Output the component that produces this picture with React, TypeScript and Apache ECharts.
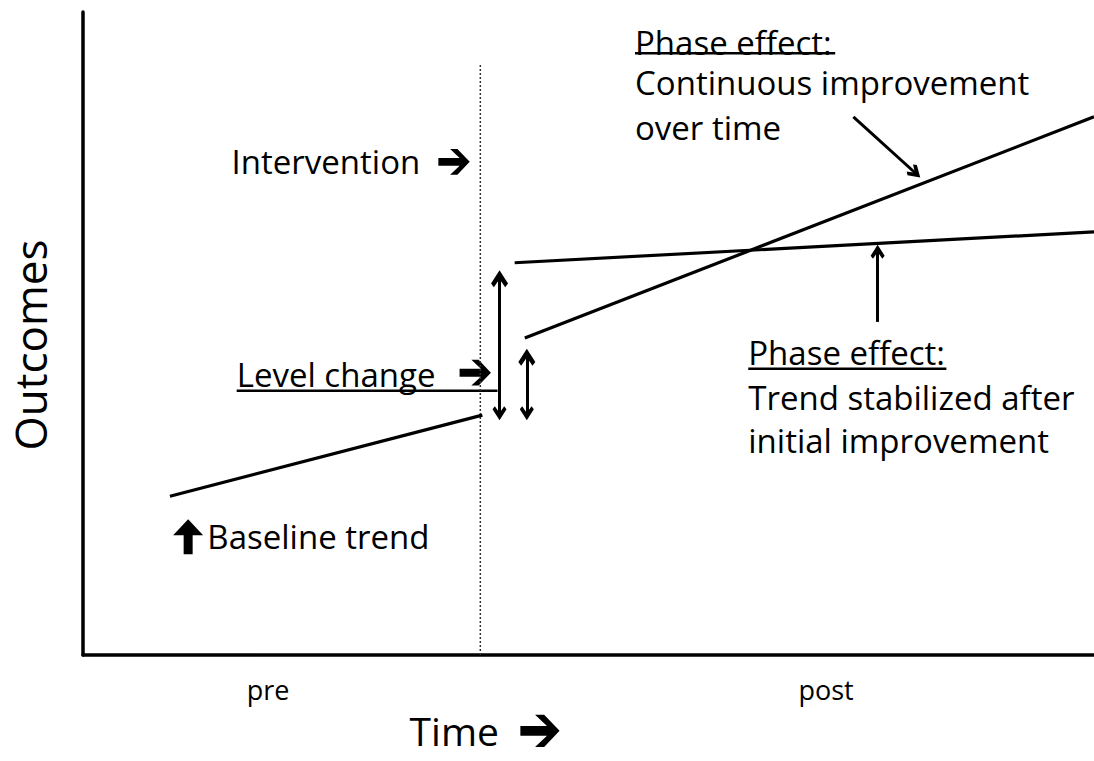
import React, { useEffect, useRef } from "react";
import * as echarts from "echarts";

// Schematic interrupted time series (time 0-100, outcome 0-100)
const baselineTrend = [[8.6, 24.7], [39.5, 37.3]];
const continuousImprovement = [[43.7, 49.3], [100, 83.7]];
const stabilizedTrend = [[42.7, 61.0], [100, 65.8]];
const interventionLine = [[39.3, 0], [39.3, 91.8]];
const levelChangeArrows = [
  [[41.2, 58.5], [41.2, 37.6]],
  [[43.9, 46.3], [43.9, 37.6]],
];
const pointerArrows = [
  [[76.2, 83.7], [82.3, 75.0]],
  [[78.6, 51.8], [78.6, 62.7]],
];

const textLabels = [
  { text: "Intervention", t: 14.7, v: 76.7, align: "left", size: 33 },
  { text: "Level change", t: 15.2, v: 43.7, align: "left", size: 33 },
  { text: "Phase effect:", t: 54.6, v: 95.3, align: "left", size: 33 },
  { text: "Continuous improvement", t: 54.6, v: 89.0, align: "left", size: 33 },
  { text: "over time", t: 54.6, v: 82.0, align: "left", size: 33 },
  { text: "Phase effect:", t: 65.8, v: 47.1, align: "left", size: 33 },
  { text: "Trend stabilized after", t: 65.8, v: 40.1, align: "left", size: 33 },
  { text: "initial improvement", t: 65.8, v: 33.3, align: "left", size: 33 },
  { text: "Baseline trend", t: 12.3, v: 18.4, align: "left", size: 33 },
  { text: "pre", t: 18.3, v: -5.4, align: "center", size: 27 },
  { text: "post", t: 73.5, v: -5.4, align: "center", size: 27 },
  { text: "Time", t: 32.3, v: -11.8, align: "left", size: 39 },
];
const yAxisTitle = { text: "Outcomes", t: -5.2, v: 48.2, size: 44 };
// heavy right-pointing arrows next to labels: position, scale
const heavyArrows = [
  { t: 36.7, v: 76.7, scale: 1.12 },
  { t: 38.8, v: 43.9, scale: 1.12 },
  { t: 45.2, v: -11.8, scale: 1.4 },
];
const blockUpArrow = { t: 10.4, v: 18.3 };
const underlines = [
  [[54.6, 93.6], [74.4, 93.6]],
  [[65.8, 44.5], [85.4, 44.5]],
  [[15.2, 41.1], [41.0, 41.1]],
];

const FONT = "'Open Sans', 'DejaVu Sans', sans-serif";
const CHEVRON = "path://M6,0 L12,7 L10,9 L6,4.6 L2,9 L0,7 Z";
const HEAVY_ARROW = [
  [14, 0], [3, -11.5], [-3.5, -11.5], [5, -3.5], [-14, -3.5],
  [-14, 3.5], [5, 3.5], [-3.5, 11.5], [3, 11.5],
];
const BLOCK_UP = [
  [0, -18], [15, -2], [4.5, -2], [4.5, 17], [-4.5, 17], [-4.5, -2], [-15, -2],
];

export default function App() {
  const ref = useRef<HTMLDivElement>(null);
  useEffect(() => {
    if (!ref.current) return;
    const chart = echarts.init(ref.current, null, { renderer: "svg" });
    const solid = { color: "#000", width: 3.2 };
    const option: any = {
      animation: false,
      backgroundColor: "#fff",
      grid: { left: 83, right: 0, top: 12, bottom: 106 },
      xAxis: {
        type: "value",
        min: 0,
        max: 100,
        axisLine: { show: true, lineStyle: { color: "#000", width: 3.5 } },
        axisTick: { show: false },
        axisLabel: { show: false },
        splitLine: { show: false },
      },
      yAxis: {
        type: "value",
        min: 0,
        max: 100,
        axisLine: { show: true, lineStyle: { color: "#000", width: 3.5 } },
        axisTick: { show: false },
        axisLabel: { show: false },
        splitLine: { show: false },
      },
      series: [
        { type: "line", data: interventionLine, symbol: "none", lineStyle: { color: "#333", width: 1.5, type: [2, 2] } },
        { type: "line", data: baselineTrend, symbol: "none", lineStyle: solid },
        { type: "line", data: continuousImprovement, symbol: "none", lineStyle: solid },
        { type: "line", data: stabilizedTrend, symbol: "none", lineStyle: solid },
        {
          type: "lines",
          coordinateSystem: "cartesian2d",
          symbol: [CHEVRON, CHEVRON],
          symbolSize: [17, 14],
          lineStyle: { color: "#000", width: 3, opacity: 1 },
          data: levelChangeArrows.map((c) => ({ coords: c })),
        },
        {
          type: "lines",
          coordinateSystem: "cartesian2d",
          symbol: ["none", CHEVRON],
          symbolSize: [17, 14],
          lineStyle: { color: "#000", width: 3, opacity: 1 },
          data: pointerArrows.map((c) => ({ coords: c })),
        },
      ],
    };
    chart.setOption(option);
    const px = (t: number, v: number) => chart.convertToPixel({ gridIndex: 0 }, [t, v]) as number[];
    const graphics: any[] = [];
    textLabels.forEach((a) => {
      const [x, y] = px(a.t, a.v);
      graphics.push({
        type: "text",
        x,
        y,
        style: {
          text: a.text,
          fill: "#000",
          fontSize: a.size,
          fontFamily: FONT,
          textAlign: a.align,
          textVerticalAlign: "middle",
          align: a.align,
          verticalAlign: "middle",
        },
      });
    });
    {
      const [x, y] = px(yAxisTitle.t, yAxisTitle.v);
      graphics.push({
        type: "text",
        x,
        y,
        rotation: Math.PI / 2,
        style: {
          text: yAxisTitle.text,
          fill: "#000",
          fontSize: yAxisTitle.size,
          fontFamily: FONT,
          textAlign: "center",
          textVerticalAlign: "middle",
          align: "center",
          verticalAlign: "middle",
        },
      });
    }
    heavyArrows.forEach((a) => {
      const [x, y] = px(a.t, a.v);
      graphics.push({
        type: "polygon",
        x,
        y,
        scaleX: a.scale,
        scaleY: a.scale,
        shape: { points: HEAVY_ARROW },
        style: { fill: "#000" },
      });
    });
    {
      const [x, y] = px(blockUpArrow.t, blockUpArrow.v);
      graphics.push({
        type: "polygon",
        x,
        y,
        shape: { points: BLOCK_UP },
        style: { fill: "#000" },
      });
    }
    underlines.forEach((u) => {
      const [x1, y1] = px(u[0][0], u[0][1]);
      const [x2, y2] = px(u[1][0], u[1][1]);
      graphics.push({
        type: "line",
        shape: { x1, y1, x2, y2 },
        style: { stroke: "#000", lineWidth: 2.5 },
      });
    });
    chart.setOption({ graphic: graphics });
    return () => chart.dispose();
  }, []);
  return (
    <div
      ref={ref}
      style={{ position: "fixed", left: 0, top: 0, width: 1094, height: 761, background: "#fff" }}
    />
  );
}
